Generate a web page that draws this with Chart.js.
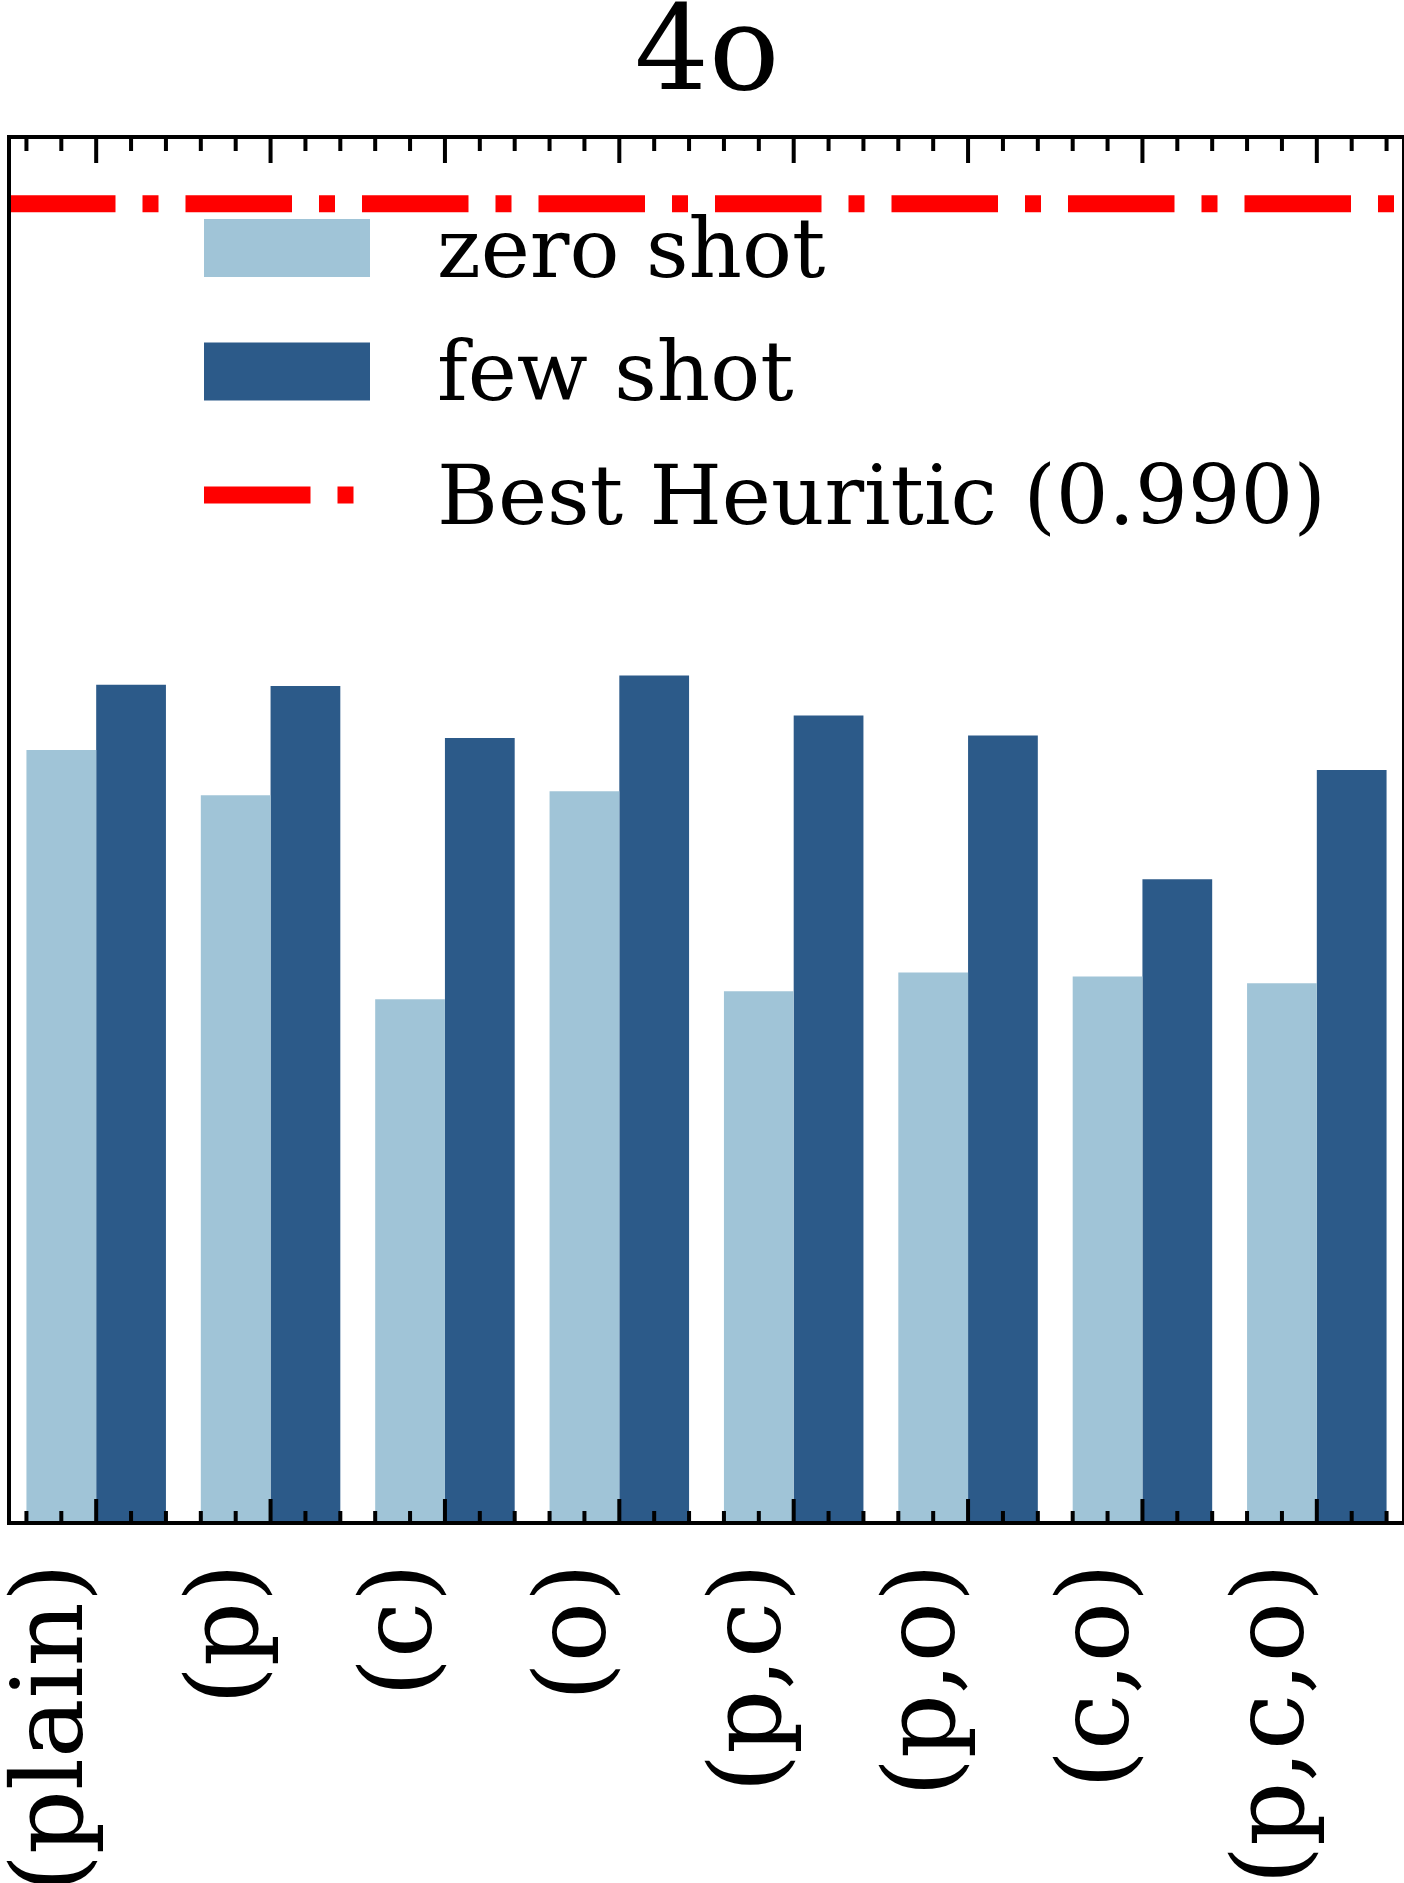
<!DOCTYPE html>
<html><head><meta charset="utf-8">
<script src="https://cdn.jsdelivr.net/npm/chart.js@4.4.0/dist/chart.umd.min.js"></script>
<style>html,body{margin:0;padding:0;background:#fff;overflow:hidden;} #wrap{width:1404px;height:1883px;} canvas{display:block;}</style>
</head><body><div id="wrap"><canvas id="c" width="1404" height="1883"></canvas></div>
<script>
const categories = ['(plain)', '(p)', '(c)', '(o)', '(p,c)', '(p,o)', '(c,o)', '(p,c,o)'];
const zeroShot = [0.580, 0.546, 0.393, 0.549, 0.399, 0.413, 0.410, 0.405];
const fewShot  = [0.629, 0.628, 0.589, 0.636, 0.606, 0.591, 0.483, 0.565];
const bestHeuristic = 0.990;
const seriesLabels = ['zero shot', 'few shot'];
const heuristicLabel = 'Best Heuritic (0.990)';
const titleText = '4o';
const yMin = 0;
const yMax = 1.04;

const COLORS = { zero: '#a0c4d7', few: '#2c5a89', red: '#ff0000' };
const FONT = 'DejaVu Serif';

const framePlugin = {
  id: 'frameTicks',
  afterDatasetsDraw(chart) {
    const { ctx, chartArea: a, scales: { x, y } } = chart;
    ctx.save();
    // Best heuristic dash-dot line
    const yb = y.getPixelForValue(bestHeuristic);
    ctx.strokeStyle = COLORS.red;
    ctx.lineWidth = 17;
    ctx.lineCap = 'butt';
    ctx.setLineDash([106.5, 27, 16, 27]);
    ctx.beginPath(); ctx.moveTo(a.left, yb); ctx.lineTo(a.right, yb); ctx.stroke();
    ctx.setLineDash([]);
    // ticks (inward, top and bottom)
    ctx.strokeStyle = '#000';
    ctx.lineWidth = 4;
    const n = categories.length;
    ctx.beginPath();
    for (let k = -2; k <= (n - 1) * 5 + 2; k++) {
      const px = x.getPixelForValue(k / 5);
      const major = k % 5 === 0;
      ctx.moveTo(px, a.top); ctx.lineTo(px, a.top + (major ? 26 : 14));
      ctx.moveTo(px, a.bottom); ctx.lineTo(px, a.bottom - (major ? 24 : 12));
    }
    ctx.stroke();
    // frame
    ctx.lineWidth = 4;
    ctx.strokeRect(a.left, a.top, a.right - a.left, a.bottom - a.top);
    // legend (inside axes, no frame)
    const hx = a.left + 195, hw = 166, tx = a.left + 428;
    const rows = [a.top + 111, a.top + 234.5, a.top + 358];
    ctx.fillStyle = COLORS.zero; ctx.fillRect(hx, rows[0] - 29, hw, 58);
    ctx.fillStyle = COLORS.few; ctx.fillRect(hx, rows[1] - 29, hw, 58);
    ctx.strokeStyle = COLORS.red; ctx.lineWidth = 17; ctx.setLineDash([106.5, 27, 16, 27]);
    ctx.beginPath(); ctx.moveTo(hx, rows[2]); ctx.lineTo(hx + 150, rows[2]); ctx.stroke();
    ctx.setLineDash([]);
    ctx.fillStyle = '#000';
    ctx.font = '83px "' + FONT + '"';
    ctx.textAlign = 'left'; ctx.textBaseline = 'alphabetic';
    const texts = [seriesLabels[0], seriesLabels[1], heuristicLabel];
    texts.forEach((t, i) => ctx.fillText(t, tx, rows[i] + 28.5));
    ctx.restore();
  }
};

new Chart(document.getElementById('c'), {
  type: 'bar',
  data: {
    labels: categories,
    datasets: [
      { label: seriesLabels[0], data: zeroShot, backgroundColor: COLORS.zero, borderWidth: 0, categoryPercentage: 0.8, barPercentage: 1.0 },
      { label: seriesLabels[1], data: fewShot, backgroundColor: COLORS.few, borderWidth: 0, categoryPercentage: 0.8, barPercentage: 1.0 }
    ]
  },
  options: {
    responsive: false,
    devicePixelRatio: 1,
    animation: false,
    layout: { padding: { left: 9, right: -1, top: 0, bottom: 0 } },
    plugins: {
      legend: { display: false },
      tooltip: { enabled: false },
      title: {
        display: true, text: titleText, color: '#000',
        font: { family: FONT, size: 117, weight: 'normal', lineHeight: 0.9 },
        padding: { top: 6, bottom: 25.7 }
      }
    },
    scales: {
      x: {
        grid: { display: false, drawTicks: false },
        border: { display: false },
        ticks: {
          autoSkip: false, maxRotation: 90, minRotation: 90, padding: 40, labelOffset: -40,
          color: '#000', font: { family: FONT, size: 100, lineHeight: 1.2 }
        },
        afterFit(s) { s.height = 360; s.paddingLeft = 0; s.paddingRight = 0; }
      },
      y: { display: false, min: yMin, max: yMax }
    }
  },
  plugins: [framePlugin]
});
</script>
</body></html>
